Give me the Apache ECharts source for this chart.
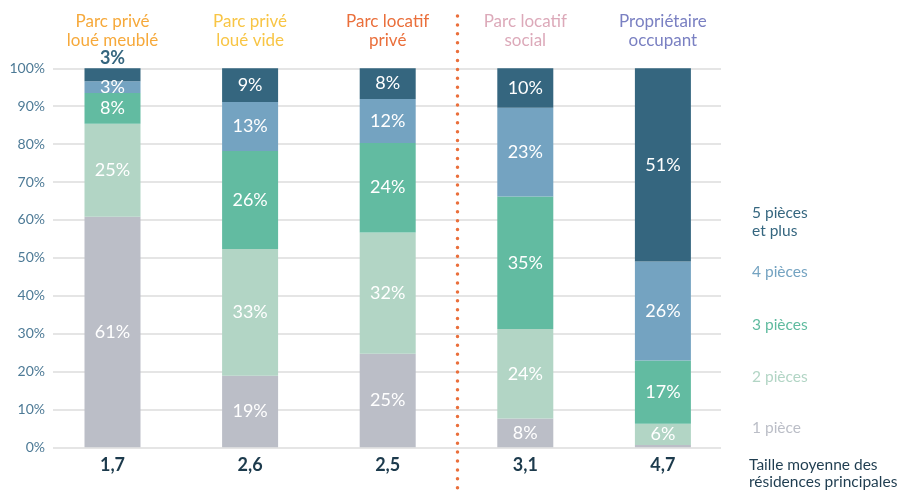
<!DOCTYPE html>
<html>
<head>
<meta charset="utf-8">
<script src="https://cdn.jsdelivr.net/npm/echarts@6/dist/echarts.min.js"></script>
<style>
  html, body { margin: 0; padding: 0; background: #fff; }
  #chart { width: 897px; height: 492px; }
</style>
</head>
<body>
<div id="chart"></div>
<script>
// données
var categories = ['Parc privé\nloué meublé', 'Parc privé\nloué vide', 'Parc locatif\nprivé', 'Parc locatif\nsocial', 'Propriétaire\noccupant'];
var categoryColors = ['#f6a93b', '#f8c545', '#ea6f3b', '#dca9b9', '#7a80c2'];
var tailleMoyenne = ['1,7', '2,6', '2,5', '3,1', '4,7'];
var pieces1 = [60.8, 18.9, 24.7, 7.6, 0.6];
var pieces2 = [24.6, 33.4, 32.0, 23.6, 5.6];
var pieces3 = [8.1, 25.9, 23.6, 35.0, 16.7];
var pieces4 = [3.1, 12.9, 11.6, 23.4, 26.1];
var pieces5 = [3.4, 8.9, 8.1, 10.4, 51.0];
var seriesNames = ['1 pièce', '2 pièces', '3 pièces', '4 pièces', '5 pièces\net plus'];
var seriesColors = ['#bbbec7', '#b2d5c5', '#62bba1', '#74a3c1', '#35667f'];
var legendColors = ['#bbbec7', '#b2d5c5', '#5fbb9f', '#74a3c1', '#35667f'];
var yTicks = [0, 10, 20, 30, 40, 50, 60, 70, 80, 90, 100];

var font = 'Lato, "Noto Sans", sans-serif';
var chart = echarts.init(document.getElementById('chart'), null, { renderer: 'canvas' });

var allValues = [pieces1, pieces2, pieces3, pieces4, pieces5];

var series = allValues.map(function (vals, s) {
    return {
        name: seriesNames[s],
        type: 'bar',
        stack: 'total',
        xAxisIndex: 1,
        yAxisIndex: 1,
        barWidth: 56,
        itemStyle: { color: seriesColors[s] },
        label: {
            show: true,
            position: 'inside',
            color: '#fff',
            fontFamily: font,
            fontSize: 18,
            formatter: function (p) { return Math.round(p.value) + '%'; }
        },
        data: vals.map(function (v) {
            if (s === 4 && v < 5) {
                // segment trop petit : étiquette au-dessus
                return { value: v, label: { position: 'top', color: '#35667f', fontWeight: 'bold', distance: 1 } };
            }
            if (v < 2) {
                return { value: v, label: { show: false } };
            }
            return v;
        })
    };
});

var richTitles = {};
categoryColors.forEach(function (c, i) {
    richTitles['c' + i] = { color: c, fontFamily: font, fontSize: 17, lineHeight: 18.5 };
});

var graphics = [
    {
        type: 'line',
        shape: { x1: 457.5, y1: 16, x2: 457.5, y2: 492 },
        style: { stroke: '#ea6f3b', lineWidth: 3.5, lineDash: [0, 8.9], lineCap: 'round' },
        z: 10
    }
];

// légende à droite
var legendY = [428, 377, 325, 272, 222];
seriesNames.forEach(function (n, i) {
    graphics.push({
        type: 'text',
        x: 752,
        y: legendY[i],
        style: { text: n, fill: legendColors[i], font: '15.5px ' + font, lineHeight: 18, verticalAlign: 'middle' }
    });
});
graphics.push({
    type: 'text',
    x: 749,
    y: 473.5,
    style: { text: 'Taille moyenne des\nrésidences principales', fill: '#1f3d50', font: '15.5px ' + font, lineHeight: 17.5, verticalAlign: 'middle' }
});

var option = {
    animation: false,
    backgroundColor: '#fff',
    grid: [
        { left: 53, right: 176, top: 68.3, bottom: 44.7 },
        { left: 43.7, right: 165.3, top: 68.3, bottom: 44.7 }
    ],
    xAxis: [
        { type: 'category', gridIndex: 0, data: categories, show: false },
        {
            type: 'category', gridIndex: 1, data: tailleMoyenne, position: 'bottom',
            axisLine: { show: false }, axisTick: { show: false },
            axisLabel: { color: '#1c3a4c', fontFamily: font, fontWeight: 'bold', fontSize: 18, margin: 9 }
        },
        {
            type: 'category', gridIndex: 1, data: categories, position: 'top',
            axisLine: { show: false }, axisTick: { show: false },
            axisLabel: {
                margin: 19,
                formatter: function (v, i) {
                    return v.split('\n').map(function (l) { return '{c' + i + '|' + l + '}'; }).join('\n');
                },
                rich: richTitles
            }
        }
    ],
    yAxis: [
        {
            type: 'value', gridIndex: 0, min: 0, max: 100, interval: 10,
            axisLine: { show: false }, axisTick: { show: false },
            axisLabel: {
                color: '#4d7a96', fontFamily: font, fontSize: 14, margin: 8,
                formatter: function (v) { return yTicks.indexOf(v) >= 0 ? v + '%' : ''; }
            },
            splitLine: { lineStyle: { color: '#dcdcdc', width: 1.5 } }
        },
        { type: 'value', gridIndex: 1, min: 0, max: 100, show: false }
    ],
    series: series,
    graphic: graphics
};

chart.setOption(option);
window.onresize = function () { chart.resize(); };
</script>
</body>
</html>
